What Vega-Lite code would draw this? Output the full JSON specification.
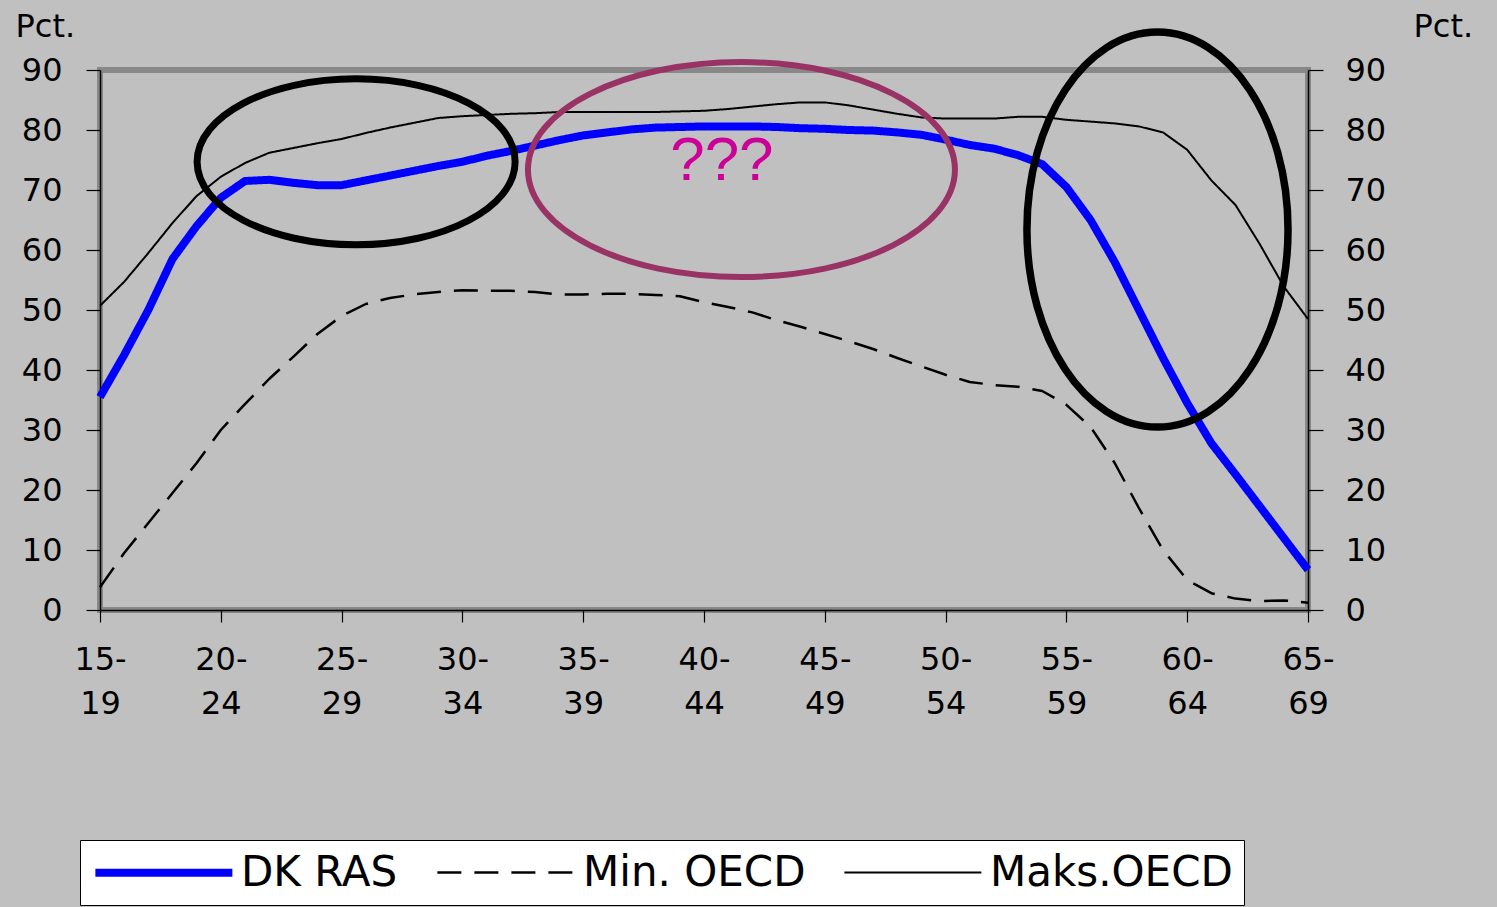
{
  "$schema": "https://vega.github.io/schema/vega-lite/v6.json",
  "width": 1208,
  "height": 540,
  "autosize": {"type": "none"},
  "padding": {"left": 100, "top": 70, "right": 189, "bottom": 297},
  "background": "#C0C0C0",
  "config": {
    "font": "DejaVu Sans",
    "view": {"stroke": "#888888", "strokeWidth": 6},
    "axis": {"grid": false, "domainColor": "#000000", "domainWidth": 1.5, "tickColor": "#000000", "tickWidth": 1.2, "labelColor": "#000000", "labelFont": "DejaVu Sans", "labelFontSize": 32, "titleFont": "DejaVu Sans", "titleFontSize": 32, "titleFontWeight": "normal", "titleColor": "#000000"}
  },
  "datasets": {
    "series": [
      {"series": "DK RAS", "age": 15, "pct": 35.5}, {"series": "DK RAS", "age": 16, "pct": 42.5}, {"series": "DK RAS", "age": 17, "pct": 50}, {"series": "DK RAS", "age": 18, "pct": 58.5}, {"series": "DK RAS", "age": 19, "pct": 64}, {"series": "DK RAS", "age": 20, "pct": 68.7}, {"series": "DK RAS", "age": 21, "pct": 71.5}, {"series": "DK RAS", "age": 22, "pct": 71.7}, {"series": "DK RAS", "age": 23, "pct": 71.2}, {"series": "DK RAS", "age": 24, "pct": 70.8}, {"series": "DK RAS", "age": 25, "pct": 70.8},
      {"series": "DK RAS", "age": 26, "pct": 71.6}, {"series": "DK RAS", "age": 27, "pct": 72.4}, {"series": "DK RAS", "age": 28, "pct": 73.2}, {"series": "DK RAS", "age": 29, "pct": 74}, {"series": "DK RAS", "age": 30, "pct": 74.7}, {"series": "DK RAS", "age": 31, "pct": 75.7}, {"series": "DK RAS", "age": 32, "pct": 76.5}, {"series": "DK RAS", "age": 33, "pct": 77.4}, {"series": "DK RAS", "age": 34, "pct": 78.3}, {"series": "DK RAS", "age": 35, "pct": 79.1},
      {"series": "DK RAS", "age": 36, "pct": 79.6}, {"series": "DK RAS", "age": 37, "pct": 80.1}, {"series": "DK RAS", "age": 38, "pct": 80.4}, {"series": "DK RAS", "age": 39, "pct": 80.5}, {"series": "DK RAS", "age": 40, "pct": 80.6}, {"series": "DK RAS", "age": 41, "pct": 80.6}, {"series": "DK RAS", "age": 42, "pct": 80.6}, {"series": "DK RAS", "age": 43, "pct": 80.5}, {"series": "DK RAS", "age": 44, "pct": 80.3}, {"series": "DK RAS", "age": 45, "pct": 80.2},
      {"series": "DK RAS", "age": 46, "pct": 80}, {"series": "DK RAS", "age": 47, "pct": 79.9}, {"series": "DK RAS", "age": 48, "pct": 79.6}, {"series": "DK RAS", "age": 49, "pct": 79.2}, {"series": "DK RAS", "age": 50, "pct": 78.4}, {"series": "DK RAS", "age": 51, "pct": 77.5}, {"series": "DK RAS", "age": 52, "pct": 76.9}, {"series": "DK RAS", "age": 53, "pct": 75.8}, {"series": "DK RAS", "age": 54, "pct": 74.3}, {"series": "DK RAS", "age": 55, "pct": 70.5},
      {"series": "DK RAS", "age": 56, "pct": 65}, {"series": "DK RAS", "age": 57, "pct": 58}, {"series": "DK RAS", "age": 58, "pct": 50}, {"series": "DK RAS", "age": 59, "pct": 42}, {"series": "DK RAS", "age": 60, "pct": 34.5}, {"series": "DK RAS", "age": 61, "pct": 27.8}, {"series": "DK RAS", "age": 62, "pct": 22.6}, {"series": "DK RAS", "age": 63, "pct": 17.3}, {"series": "DK RAS", "age": 64, "pct": 12}, {"series": "DK RAS", "age": 65, "pct": 6.7},

      {"series": "Min. OECD", "age": 15, "pct": 3.8}, {"series": "Min. OECD", "age": 16, "pct": 9.5}, {"series": "Min. OECD", "age": 17, "pct": 14.5}, {"series": "Min. OECD", "age": 18, "pct": 19.5}, {"series": "Min. OECD", "age": 19, "pct": 24.5}, {"series": "Min. OECD", "age": 20, "pct": 30}, {"series": "Min. OECD", "age": 21, "pct": 34.3}, {"series": "Min. OECD", "age": 22, "pct": 38.5}, {"series": "Min. OECD", "age": 23, "pct": 42.2}, {"series": "Min. OECD", "age": 24, "pct": 46}, {"series": "Min. OECD", "age": 25, "pct": 49},
      {"series": "Min. OECD", "age": 26, "pct": 51}, {"series": "Min. OECD", "age": 27, "pct": 52}, {"series": "Min. OECD", "age": 28, "pct": 52.6}, {"series": "Min. OECD", "age": 29, "pct": 53}, {"series": "Min. OECD", "age": 30, "pct": 53.3}, {"series": "Min. OECD", "age": 31, "pct": 53.2}, {"series": "Min. OECD", "age": 32, "pct": 53.2}, {"series": "Min. OECD", "age": 33, "pct": 53}, {"series": "Min. OECD", "age": 34, "pct": 52.6}, {"series": "Min. OECD", "age": 35, "pct": 52.6},
      {"series": "Min. OECD", "age": 36, "pct": 52.7}, {"series": "Min. OECD", "age": 37, "pct": 52.7}, {"series": "Min. OECD", "age": 38, "pct": 52.5}, {"series": "Min. OECD", "age": 39, "pct": 52.3}, {"series": "Min. OECD", "age": 40, "pct": 51.3}, {"series": "Min. OECD", "age": 41, "pct": 50.5}, {"series": "Min. OECD", "age": 42, "pct": 49.6}, {"series": "Min. OECD", "age": 43, "pct": 48.3}, {"series": "Min. OECD", "age": 44, "pct": 47.2}, {"series": "Min. OECD", "age": 45, "pct": 46},
      {"series": "Min. OECD", "age": 46, "pct": 44.8}, {"series": "Min. OECD", "age": 47, "pct": 43.5}, {"series": "Min. OECD", "age": 48, "pct": 42}, {"series": "Min. OECD", "age": 49, "pct": 40.6}, {"series": "Min. OECD", "age": 50, "pct": 39.2}, {"series": "Min. OECD", "age": 51, "pct": 38}, {"series": "Min. OECD", "age": 52, "pct": 37.5}, {"series": "Min. OECD", "age": 53, "pct": 37.2}, {"series": "Min. OECD", "age": 54, "pct": 36.5}, {"series": "Min. OECD", "age": 55, "pct": 34.2},
      {"series": "Min. OECD", "age": 56, "pct": 30.5}, {"series": "Min. OECD", "age": 57, "pct": 24.5}, {"series": "Min. OECD", "age": 58, "pct": 17}, {"series": "Min. OECD", "age": 59, "pct": 10}, {"series": "Min. OECD", "age": 60, "pct": 5}, {"series": "Min. OECD", "age": 61, "pct": 2.8}, {"series": "Min. OECD", "age": 62, "pct": 1.9}, {"series": "Min. OECD", "age": 63, "pct": 1.5}, {"series": "Min. OECD", "age": 64, "pct": 1.6}, {"series": "Min. OECD", "age": 65, "pct": 1.2},

      {"series": "Maks.OECD", "age": 15, "pct": 50.7}, {"series": "Maks.OECD", "age": 16, "pct": 54.7}, {"series": "Maks.OECD", "age": 17, "pct": 59.5}, {"series": "Maks.OECD", "age": 18, "pct": 64.5}, {"series": "Maks.OECD", "age": 19, "pct": 69}, {"series": "Maks.OECD", "age": 20, "pct": 72.2}, {"series": "Maks.OECD", "age": 21, "pct": 74.5}, {"series": "Maks.OECD", "age": 22, "pct": 76.2}, {"series": "Maks.OECD", "age": 23, "pct": 77}, {"series": "Maks.OECD", "age": 24, "pct": 77.8}, {"series": "Maks.OECD", "age": 25, "pct": 78.5},
      {"series": "Maks.OECD", "age": 26, "pct": 79.5}, {"series": "Maks.OECD", "age": 27, "pct": 80.4}, {"series": "Maks.OECD", "age": 28, "pct": 81.2}, {"series": "Maks.OECD", "age": 29, "pct": 82}, {"series": "Maks.OECD", "age": 30, "pct": 82.3}, {"series": "Maks.OECD", "age": 31, "pct": 82.5}, {"series": "Maks.OECD", "age": 32, "pct": 82.7}, {"series": "Maks.OECD", "age": 33, "pct": 82.8}, {"series": "Maks.OECD", "age": 34, "pct": 83}, {"series": "Maks.OECD", "age": 35, "pct": 83},
      {"series": "Maks.OECD", "age": 36, "pct": 83}, {"series": "Maks.OECD", "age": 37, "pct": 83}, {"series": "Maks.OECD", "age": 38, "pct": 83}, {"series": "Maks.OECD", "age": 39, "pct": 83.1}, {"series": "Maks.OECD", "age": 40, "pct": 83.2}, {"series": "Maks.OECD", "age": 41, "pct": 83.5}, {"series": "Maks.OECD", "age": 42, "pct": 83.9}, {"series": "Maks.OECD", "age": 43, "pct": 84.3}, {"series": "Maks.OECD", "age": 44, "pct": 84.6}, {"series": "Maks.OECD", "age": 45, "pct": 84.6},
      {"series": "Maks.OECD", "age": 46, "pct": 84.1}, {"series": "Maks.OECD", "age": 47, "pct": 83.4}, {"series": "Maks.OECD", "age": 48, "pct": 82.7}, {"series": "Maks.OECD", "age": 49, "pct": 82.1}, {"series": "Maks.OECD", "age": 50, "pct": 81.9}, {"series": "Maks.OECD", "age": 51, "pct": 81.9}, {"series": "Maks.OECD", "age": 52, "pct": 81.9}, {"series": "Maks.OECD", "age": 53, "pct": 82.2}, {"series": "Maks.OECD", "age": 54, "pct": 82.2}, {"series": "Maks.OECD", "age": 55, "pct": 81.7},
      {"series": "Maks.OECD", "age": 56, "pct": 81.4}, {"series": "Maks.OECD", "age": 57, "pct": 81.1}, {"series": "Maks.OECD", "age": 58, "pct": 80.6}, {"series": "Maks.OECD", "age": 59, "pct": 79.6}, {"series": "Maks.OECD", "age": 60, "pct": 76.7}, {"series": "Maks.OECD", "age": 61, "pct": 71.6}, {"series": "Maks.OECD", "age": 62, "pct": 67.5}, {"series": "Maks.OECD", "age": 63, "pct": 61}, {"series": "Maks.OECD", "age": 64, "pct": 53.9}, {"series": "Maks.OECD", "age": 65, "pct": 48.5}
    ],
    "ellipses": [
      {"name": "A", "age": 25.6, "pct": 74.7},
      {"name": "B", "age": 41.55, "pct": 73.4},
      {"name": "C", "age": 58.77, "pct": 63.4}
    ]
  },
  "layer": [
    {
      "data": {"name": "series"},
      "mark": {"type": "line", "strokeCap": "butt", "strokeJoin": "round"},
      "encoding": {
        "x": {
          "field": "age", "type": "quantitative",
          "scale": {"domain": [15, 65], "nice": false, "zero": false},
          "axis": {"title": null, "values": [15, 20, 25, 30, 35, 40, 45, 50, 55, 60, 65], "labelExpr": "[datum.label + '-', '' + (datum.value + 4)]", "labelLineHeight": 44, "tickSize": 12, "labelPadding": 22, "labelBaseline": "top", "labelAlign": "center", "labelFlush": false, "labelOverlap": false}
        },
        "y": {
          "field": "pct", "type": "quantitative",
          "scale": {"domain": [0, 90], "nice": false},
          "axis": {"orient": "left", "values": [0, 10, 20, 30, 40, 50, 60, 70, 80, 90], "tickSize": 14, "labelPadding": 24, "labelFlush": false, "labelOverlap": false, "title": "Pct.", "titleAngle": 0, "titleAlign": "left", "titleBaseline": "alphabetic", "titleX": -85, "titleY": -34}
        },
        "color": {
          "field": "series", "type": "nominal",
          "scale": {"domain": ["DK RAS", "Min. OECD", "Maks.OECD"], "range": ["#0000FF", "#000000", "#000000"]},
          "legend": {"title": null, "orient": "none", "legendX": -20, "legendY": 770, "direction": "horizontal", "columns": 3, "symbolType": "M -1 0 L 7 0", "symbolSize": 1173, "symbolFillColor": "transparent", "labelFontSize": 42, "labelFont": "DejaVu Sans", "labelColor": "#000000", "labelLimit": 400, "labelOffset": 107, "columnPadding": 34, "fillColor": "#FFFFFF", "strokeColor": "#000000", "padding": 11}
        },
        "strokeDash": {
          "field": "series", "type": "nominal",
          "scale": {"domain": ["DK RAS", "Min. OECD", "Maks.OECD"], "range": [[1, 0], [24, 13], [1, 0]]}
        },
        "strokeWidth": {
          "field": "series", "type": "nominal",
          "scale": {"type": "ordinal", "domain": ["DK RAS", "Min. OECD", "Maks.OECD"], "range": [8, 2.5, 2]}
        }
      }
    },
    {
      "data": {"name": "ellipses"},
      "transform": [{"filter": "datum.name === 'A'"}],
      "mark": {"type": "point", "shape": "M -1 0 A 1 0.522 0 1 1 1 0 A 1 0.522 0 1 1 -1 0 Z", "size": 101124, "filled": false, "stroke": "#000000", "strokeWidth": 7, "opacity": 1},
      "encoding": {
        "x": {"field": "age", "type": "quantitative"},
        "y": {
          "field": "pct", "type": "quantitative",
          "axis": {"orient": "right", "values": [0, 10, 20, 30, 40, 50, 60, 70, 80, 90], "tickSize": 15, "labelPadding": 22, "labelFlush": false, "labelOverlap": false, "title": "Pct.", "titleAngle": 0, "titleAlign": "left", "titleBaseline": "alphabetic", "titleX": 105, "titleY": -34}
        }
      }
    },
    {
      "data": {"name": "ellipses"},
      "transform": [{"filter": "datum.name === 'B'"}],
      "mark": {"type": "point", "shape": "M -1 0 A 1 0.5035 0 1 1 1 0 A 1 0.5035 0 1 1 -1 0 Z", "size": 182329, "filled": false, "stroke": "#993366", "strokeWidth": 6, "opacity": 1},
      "encoding": {
        "x": {"field": "age", "type": "quantitative"},
        "y": {"field": "pct", "type": "quantitative", "axis": null}
      }
    },
    {
      "data": {"name": "ellipses"},
      "transform": [{"filter": "datum.name === 'C'"}],
      "mark": {"type": "point", "shape": "M -0.661 0 A 0.661 1 0 1 1 0.661 0 A 0.661 1 0 1 1 -0.661 0 Z", "size": 156025, "filled": false, "stroke": "#000000", "strokeWidth": 7.5, "opacity": 1},
      "encoding": {
        "x": {"field": "age", "type": "quantitative"},
        "y": {"field": "pct", "type": "quantitative", "axis": null}
      }
    },
    {
      "data": {"values": [{"note": "???", "age": 40.74, "pct": 71.7}]},
      "mark": {"type": "text", "font": "Liberation Sans", "fontSize": 62, "color": "#CC0099", "align": "center", "baseline": "alphabetic"},
      "encoding": {
        "x": {"field": "age", "type": "quantitative"},
        "y": {"field": "pct", "type": "quantitative", "axis": null},
        "text": {"field": "note"}
      }
    }
  ],
  "resolve": {"axis": {"y": "independent"}}
}
